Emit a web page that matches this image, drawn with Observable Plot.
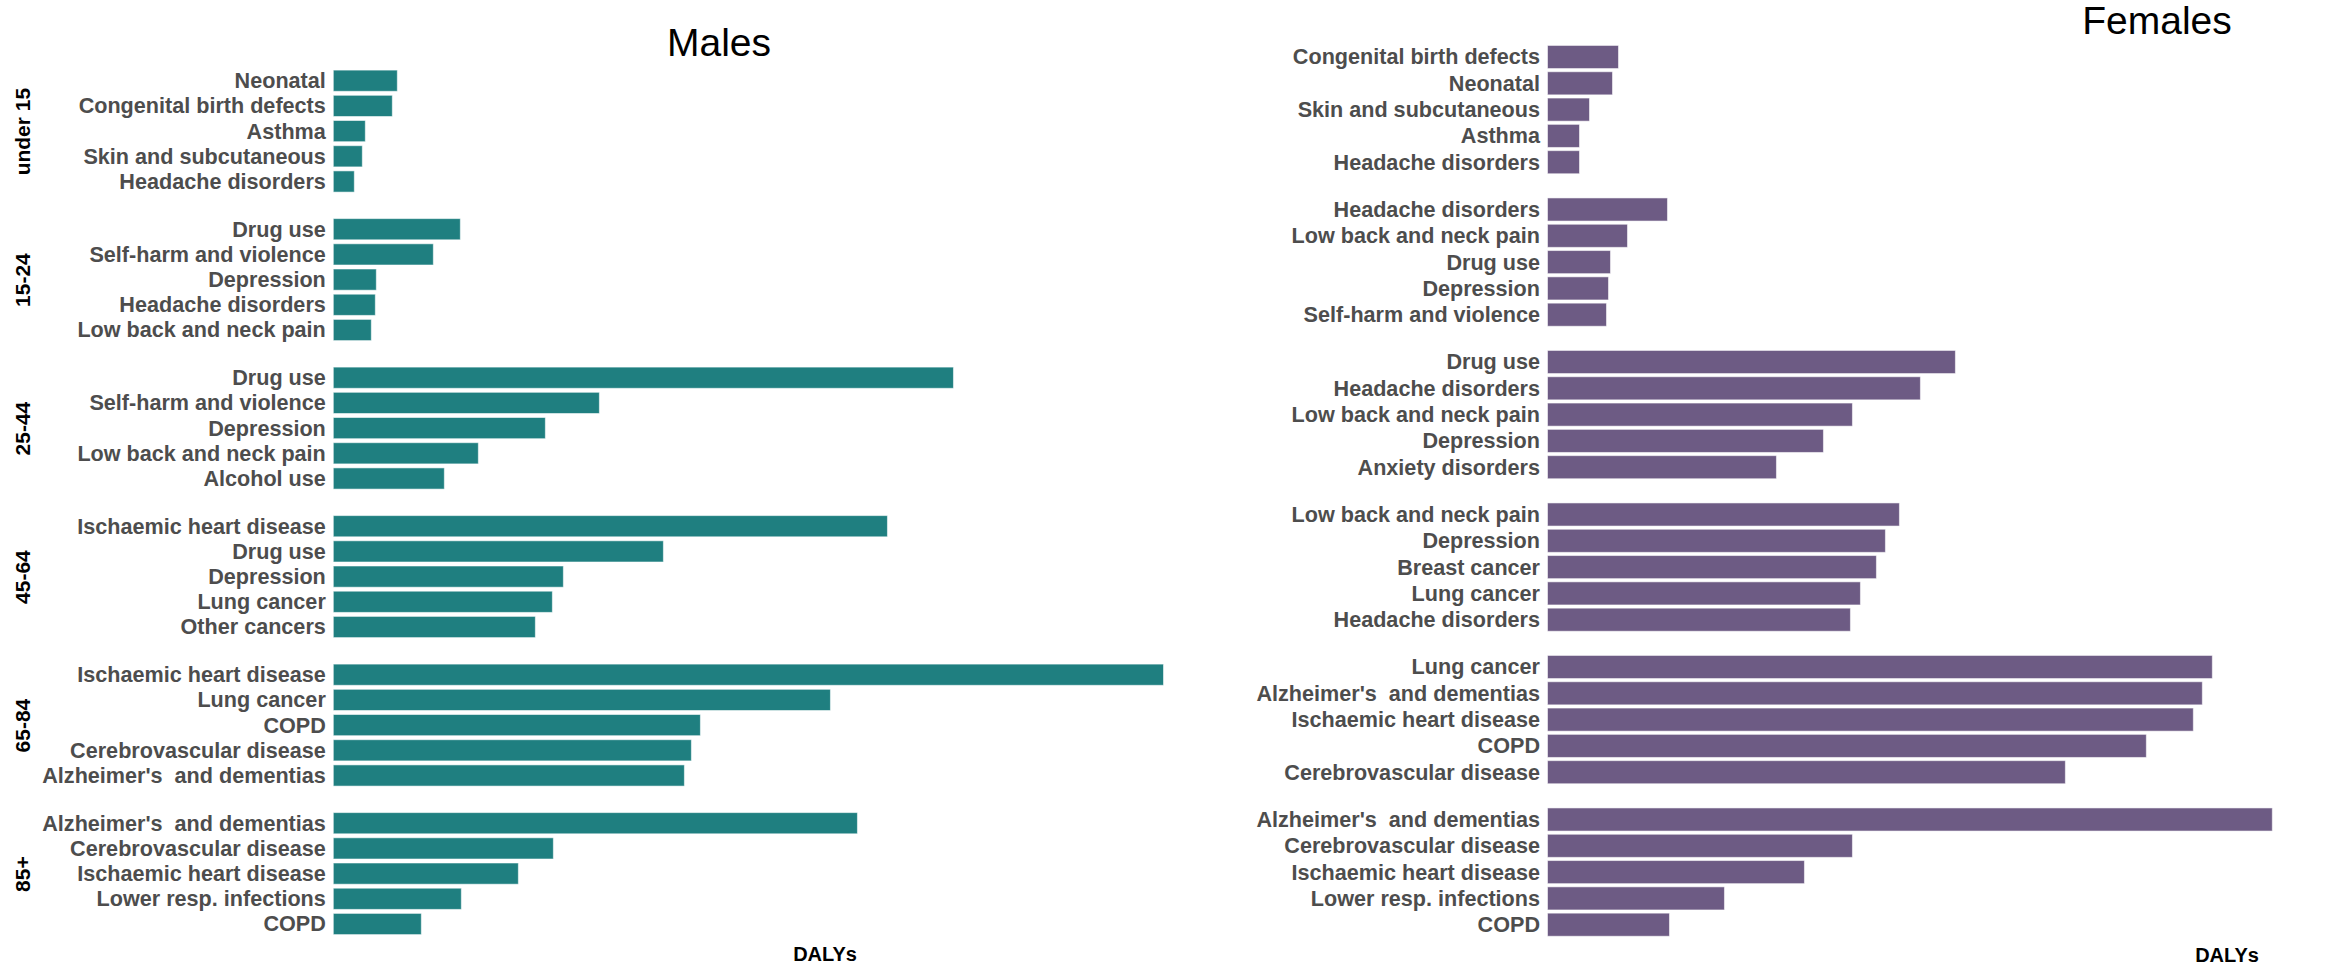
<!DOCTYPE html>
<html>
<head>
<meta charset="utf-8">
<script src="https://cdn.jsdelivr.net/npm/d3@7"></script>
<script src="https://cdn.jsdelivr.net/npm/@observablehq/plot@0.6"></script>
<style>
  html, body { margin: 0; padding: 0; background: #fff; }
  #page { position: relative; width: 2343px; height: 966px; overflow: hidden; font-family: "Liberation Sans", Arial, sans-serif; }
  .panel { position: absolute; top: 0; }
  .title { position: absolute; font-size: 39px; line-height: 1; color: #000; transform: translate(-50%, -50%); white-space: nowrap; }
  .xlab { position: absolute; font-size: 20px; font-weight: bold; line-height: 1; color: #000; transform: translate(-50%, -50%); white-space: nowrap; }
</style>
</head>
<body>
<div id="page">
  <div class="panel" id="males" style="left:0px"></div>
  <div class="panel" id="females" style="left:1180px"></div>
  <div class="title" style="left:719px; top:42px">Males</div>
  <div class="title" style="left:2157px; top:20px">Females</div>
  <div class="xlab" style="left:825px; top:954px">DALYs</div>
  <div class="xlab" style="left:2227px; top:955px">DALYs</div>
</div>
<script>
const ageGroups = ["under 15", "15-24", "25-44", "45-64", "65-84", "85+"];

const maleCauses = [
  ["Neonatal", "Congenital birth defects", "Asthma", "Skin and subcutaneous", "Headache disorders"],
  ["Drug use", "Self-harm and violence", "Depression", "Headache disorders", "Low back and neck pain"],
  ["Drug use", "Self-harm and violence", "Depression", "Low back and neck pain", "Alcohol use"],
  ["Ischaemic heart disease", "Drug use", "Depression", "Lung cancer", "Other cancers"],
  ["Ischaemic heart disease", "Lung cancer", "COPD", "Cerebrovascular disease", "Alzheimer's  and dementias"],
  ["Alzheimer's  and dementias", "Cerebrovascular disease", "Ischaemic heart disease", "Lower resp. infections", "COPD"]
];
const maleDALYs = [
  [64, 59, 32, 29, 21],
  [127, 100, 43, 42, 38],
  [620, 266, 212, 145, 111],
  [554, 330, 230, 219, 202],
  [830, 497, 367, 358, 351],
  [524, 220, 185, 128, 88]
];

const femaleCauses = [
  ["Congenital birth defects", "Neonatal", "Skin and subcutaneous", "Asthma", "Headache disorders"],
  ["Headache disorders", "Low back and neck pain", "Drug use", "Depression", "Self-harm and violence"],
  ["Drug use", "Headache disorders", "Low back and neck pain", "Depression", "Anxiety disorders"],
  ["Low back and neck pain", "Depression", "Breast cancer", "Lung cancer", "Headache disorders"],
  ["Lung cancer", "Alzheimer's  and dementias", "Ischaemic heart disease", "COPD", "Cerebrovascular disease"],
  ["Alzheimer's  and dementias", "Cerebrovascular disease", "Ischaemic heart disease", "Lower resp. infections", "COPD"]
];
const femaleDALYs = [
  [71, 65, 42, 32, 32],
  [120, 80, 63, 61, 59],
  [408, 373, 305, 276, 229],
  [352, 338, 329, 313, 303],
  [665, 655, 646, 599, 518],
  [725, 305, 257, 177, 122]
];

const maleColor = "#1f7f80";
const femaleColor = "#6d5b84";

function buildRows(causes, values) {
  return ageGroups.flatMap((age, i) =>
    causes[i].map((cause, j) => ({ age, rank: j, cause, value: values[i][j] })));
}

function panel({ rows, color, width, height, marginLeft, marginRight, marginTop, marginBottom, facetPad, inset, facetLabels }) {
  const marks = [
    Plot.barX(rows, {
      x: "value", y: "rank", fy: "age",
      fill: color, stroke: "#ffffff", strokeOpacity: 0.55, strokeWidth: 1,
      insetTop: inset, insetBottom: inset
    }),
    Plot.text(rows, {
      x: 0, y: "rank", fy: "age", text: "cause",
      textAnchor: "end", dx: -8,
      fontSize: 21.6, fontWeight: "bold", fill: "#4d4d4d"
    })
  ];
  if (facetLabels) {
    marks.push(Plot.text(ageGroups, {
      fy: d => d, text: d => d, frameAnchor: "left", textAnchor: "middle",
      rotate: -90, dx: -(marginLeft - 23),
      fontSize: 21, fontWeight: "bold", fill: "#000"
    }));
  }
  return Plot.plot({
    width, height, marginLeft, marginRight, marginTop, marginBottom,
    style: { fontFamily: "Liberation Sans, Arial, sans-serif", background: "transparent", overflow: "visible" },
    x: { domain: [0, d3.max(rows, d => d.value)], axis: null },
    y: { type: "band", domain: [0, 1, 2, 3, 4], padding: 0, round: false, axis: null },
    fy: { domain: ageGroups, paddingInner: facetPad, paddingOuter: 0, round: false, axis: null },
    marks
  });
}

const maleRows = buildRows(maleCauses, maleDALYs);
const femaleRows = buildRows(femaleCauses, femaleDALYs);

document.getElementById("males").append(panel({
  rows: maleRows, color: maleColor,
  width: 1180, height: 966,
  marginLeft: 333.3, marginRight: 1180 - 1163.5, marginTop: 68.1, marginBottom: 966 - 936.6,
  facetPad: 22.5 / 148.5, inset: 2, facetLabels: true
}));

document.getElementById("females").append(panel({
  rows: femaleRows, color: femaleColor,
  width: 1163, height: 966,
  marginLeft: 1547.5 - 1180, marginRight: 1163 - (2272.3 - 1180), marginTop: 43.85, marginBottom: 966 - 937.85,
  facetPad: 21 / 152.5, inset: 1.6, facetLabels: false
}));
</script>
</body>
</html>
